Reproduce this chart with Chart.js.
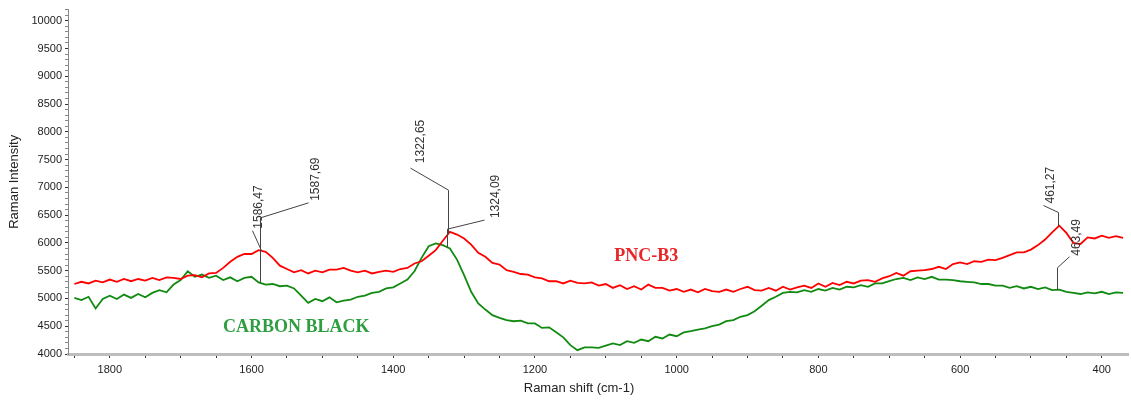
<!DOCTYPE html>
<html>
<head>
<meta charset="utf-8">
<script src="https://cdn.jsdelivr.net/npm/chart.js@4.4.1/dist/chart.umd.min.js"></script>
<style>
  html, body { margin: 0; padding: 0; background: #fff; }
  #wrap { width: 1131px; height: 401px; }
</style>
</head>
<body>
<div id="wrap"><canvas id="ramanChart" width="1131" height="401"></canvas></div>
<script>
// Raman shift (cm-1), every 10 cm-1
const ramanShift = [
  1850, 1840, 1830, 1820, 1810, 1800, 1790, 1780, 1770, 1760,
  1750, 1740, 1730, 1720, 1710, 1700, 1690, 1680, 1670, 1660,
  1650, 1640, 1630, 1620, 1610, 1600, 1590, 1580, 1570, 1560,
  1550, 1540, 1530, 1520, 1510, 1500, 1490, 1480, 1470, 1460,
  1450, 1440, 1430, 1420, 1410, 1400, 1390, 1380, 1370, 1360,
  1350, 1340, 1330, 1320, 1310, 1300, 1290, 1280, 1270, 1260,
  1250, 1240, 1230, 1220, 1210, 1200, 1190, 1180, 1170, 1160,
  1150, 1140, 1130, 1120, 1110, 1100, 1090, 1080, 1070, 1060,
  1050, 1040, 1030, 1020, 1010, 1000, 990, 980, 970, 960,
  950, 940, 930, 920, 910, 900, 890, 880, 870, 860,
  850, 840, 830, 820, 810, 800, 790, 780, 770, 760,
  750, 740, 730, 720, 710, 700, 690, 680, 670, 660,
  650, 640, 630, 620, 610, 600, 590, 580, 570, 560,
  550, 540, 530, 520, 510, 500, 490, 480, 470, 460,
  450, 440, 430, 420, 410, 400, 390, 380, 370
];

const pncB3 = [
  5260, 5300, 5270, 5320, 5290, 5340, 5300, 5350, 5310, 5350,
  5320, 5370, 5330, 5380, 5370, 5350, 5410, 5420, 5380, 5450,
  5460, 5550, 5660, 5750, 5800, 5800, 5870, 5840, 5730, 5590,
  5530, 5470, 5510, 5450, 5500, 5470, 5520, 5520, 5550, 5500,
  5470, 5500, 5450, 5480, 5500, 5480, 5530, 5550, 5630, 5670,
  5770, 5870, 6040, 6200, 6150, 6080, 5970, 5820, 5750, 5640,
  5610, 5510, 5480, 5440, 5430, 5380, 5360, 5310, 5310, 5270,
  5320, 5280, 5270, 5290, 5230, 5260, 5190, 5240, 5170, 5220,
  5160, 5250, 5190, 5190, 5140, 5170, 5120, 5160, 5110, 5170,
  5130, 5120, 5160, 5120, 5170, 5210, 5150, 5140, 5190, 5140,
  5210, 5160, 5200, 5230, 5190, 5270, 5210, 5280, 5240, 5300,
  5270, 5320, 5330, 5300, 5360, 5400, 5460, 5410, 5490, 5500,
  5510, 5530, 5570, 5530, 5620, 5650, 5620, 5670, 5660, 5700,
  5690, 5730, 5780, 5830, 5830, 5880, 5960, 6060, 6190, 6310,
  6180, 6000, 5980, 6100, 6080, 6130, 6090, 6120, 6090
];

const carbonBlack = [
  5010, 4970, 5030, 4820, 4990, 5050, 4990, 5070, 5010, 5080,
  5020, 5100, 5150, 5110, 5250, 5330, 5490, 5390, 5430, 5370,
  5410, 5330, 5380, 5310, 5370, 5390, 5290, 5250, 5260, 5220,
  5230, 5180, 5050, 4920, 4990, 4950, 5020, 4930, 4960, 4980,
  5030, 5050, 5100, 5120, 5180, 5200, 5270, 5340, 5490, 5730,
  5940, 5990, 5960, 5900, 5700, 5420, 5120, 4910, 4800, 4700,
  4650, 4610, 4590, 4600, 4550, 4550, 4470, 4480, 4390, 4300,
  4160, 4070, 4120, 4120, 4110, 4150, 4190, 4160, 4230, 4200,
  4260, 4230, 4310, 4280, 4350, 4320, 4390, 4410, 4440, 4460,
  4500, 4530, 4590, 4610, 4670, 4700, 4770, 4870, 4970, 5030,
  5100, 5120, 5110, 5150, 5120, 5170, 5140, 5190, 5160, 5210,
  5200, 5240, 5210, 5270, 5270, 5310, 5350, 5370, 5330, 5380,
  5350, 5390, 5340, 5340, 5330, 5310, 5300, 5290, 5260, 5260,
  5230, 5230, 5190, 5220, 5180, 5210, 5170, 5200, 5150, 5160,
  5120, 5100, 5080, 5110, 5090, 5120, 5080, 5110, 5100
];

const xTickLabels = [1800, 1600, 1400, 1200, 1000, 800, 600, 400];
const yTickLabels = [4000, 4500, 5000, 5500, 6000, 6500, 7000, 7500, 8000, 8500, 9000, 9500, 10000];

// peak markers: position and which curve they sit on
const peakShifts = [1586.47, 1587.69, 1322.65, 1324.09, 461.27, 463.49];
const peakSeries = ['pnc', 'cb', 'pnc', 'cb', 'pnc', 'cb'];

// leader drawing (pixels): vertical rise, slanted leg, text offset
const peakLeaders = [
  { rise: 0,  dx: -9,  dy: -20, tx: 6,  ty: -2 },
  { rise: 65, dx: 48,  dy: -15, tx: 7,  ty: -2 },
  { rise: 44, dx: -38, dy: -22, tx: 10, ty: -5 },
  { rise: 18, dx: 37,  dy: -9,  tx: 11, ty: -2 },
  { rise: 14, dx: -15, dy: -7,  tx: 7,  ty: -2 },
  { rise: 22, dx: 12,  dy: -11, tx: 7,  ty: -1 }
];

const sampleNames = ['PNC-B3', 'CARBON BLACK'];
const sampleNameAt = [[1043, 5752], [1537, 4478]];
const sampleColors = ['#e8262a', '#2e9e40'];

function valueAt(series, shift) {
  for (let i = 0; i < ramanShift.length - 1; i++) {
    const a = ramanShift[i], b = ramanShift[i + 1];
    if (shift <= a && shift >= b) {
      const t = (a - shift) / (a - b);
      return series[i] + (series[i + 1] - series[i]) * t;
    }
  }
  return series[series.length - 1];
}

const peakNotes = {
  id: 'peakNotes',
  afterDatasetsDraw(chart) {
    const { ctx, scales: { x, y } } = chart;
    ctx.save();
    ctx.strokeStyle = '#444';
    ctx.lineWidth = 1;
    ctx.fillStyle = '#333';
    ctx.font = '12px "Liberation Sans", Arial, sans-serif';
    peakShifts.forEach((shift, i) => {
      const series = peakSeries[i] === 'pnc' ? pncB3 : carbonBlack;
      const px = Math.round(x.getPixelForValue(shift)) + 0.5;
      const py = y.getPixelForValue(valueAt(series, shift));
      const g = peakLeaders[i];
      const topY = py - g.rise;
      const ex = px + g.dx, ey = topY + g.dy;
      ctx.beginPath();
      ctx.moveTo(px, py);
      ctx.lineTo(px, topY);
      ctx.lineTo(ex, ey);
      ctx.stroke();
      ctx.save();
      ctx.translate(ex + g.tx, ey + g.ty);
      ctx.rotate(-Math.PI / 2);
      ctx.textAlign = 'left';
      ctx.textBaseline = 'middle';
      ctx.fillText(shift.toFixed(2).replace('.', ','), 0, 0);
      ctx.restore();
    });

    // sample names
    ctx.font = 'bold 18px "Liberation Serif", "Times New Roman", serif';
    ctx.textAlign = 'center';
    ctx.textBaseline = 'middle';
    sampleNames.forEach((name, i) => {
      ctx.fillStyle = sampleColors[i];
      ctx.fillText(name, x.getPixelForValue(sampleNameAt[i][0]), y.getPixelForValue(sampleNameAt[i][1]));
    });

    // x axis title
    ctx.fillStyle = '#222';
    ctx.font = '13px "Liberation Sans", Arial, sans-serif';
    ctx.fillText('Raman shift (cm-1)', 579, 388);
    ctx.restore();
  }
};

const ctx = document.getElementById('ramanChart');
new Chart(ctx, {
  type: 'line',
  data: {
    datasets: [
      {
        label: 'PNC-B3',
        data: ramanShift.map((s, i) => ({ x: s, y: pncB3[i] })),
        borderColor: '#ff0000',
        borderWidth: 1.8,
        pointRadius: 0,
        tension: 0
      },
      {
        label: 'CARBON BLACK',
        data: ramanShift.map((s, i) => ({ x: s, y: carbonBlack[i] })),
        borderColor: '#118a11',
        borderWidth: 1.8,
        pointRadius: 0,
        tension: 0
      }
    ]
  },
  options: {
    responsive: false,
    animation: false,
    devicePixelRatio: 1,
    layout: { padding: { top: 3, right: 3, bottom: 0, left: 0 } },
    plugins: {
      legend: { display: false },
      tooltip: { enabled: false }
    },
    scales: {
      x: {
        type: 'linear',
        reverse: true,
        min: 363,
        max: 1859,
        afterBuildTicks: (scale) => {
          // tick every 50 cm-1, label every 200
          const ticks = [];
          for (let v = 400; v <= 1850; v += 50) ticks.push({ value: v });
          scale.ticks = ticks;
        },
        afterFit: (scale) => { scale.height = 47; },
        border: { color: '#bdbdbd', width: 3 },
        grid: {
          drawOnChartArea: false,
          drawTicks: true,
          tickLength: 4,
          tickColor: '#333'
        },
        ticks: {
          autoSkip: false,
          maxRotation: 0,
          padding: 5,
          color: '#222',
          font: { family: '"Liberation Sans", Arial, sans-serif', size: 11 },
          callback: (v) => xTickLabels.includes(v) ? String(v) : ''
        }
      },
      y: {
        min: 4000,
        max: 10200,
        afterFit: (scale) => { scale.width = 68; },
        border: { color: '#888', width: 1 },
        grid: {
          drawOnChartArea: false,
          drawTicks: true,
          tickLength: 3,
          tickColor: (c) => (c.tick && c.tick.value % 500 === 0) ? '#333' : '#888'
        },
        ticks: {
          stepSize: 100,
          autoSkip: false,
          padding: 3,
          color: '#222',
          font: { family: '"Liberation Sans", Arial, sans-serif', size: 11 },
          callback: (v) => yTickLabels.includes(v) ? String(v) : ''
        },
        title: {
          display: true,
          text: 'Raman Intensity',
          color: '#222',
          font: { family: '"Liberation Sans", Arial, sans-serif', size: 13 },
          padding: { top: 7, bottom: 0 }
        }
      }
    }
  },
  plugins: [peakNotes]
});
</script>
</body>
</html>
